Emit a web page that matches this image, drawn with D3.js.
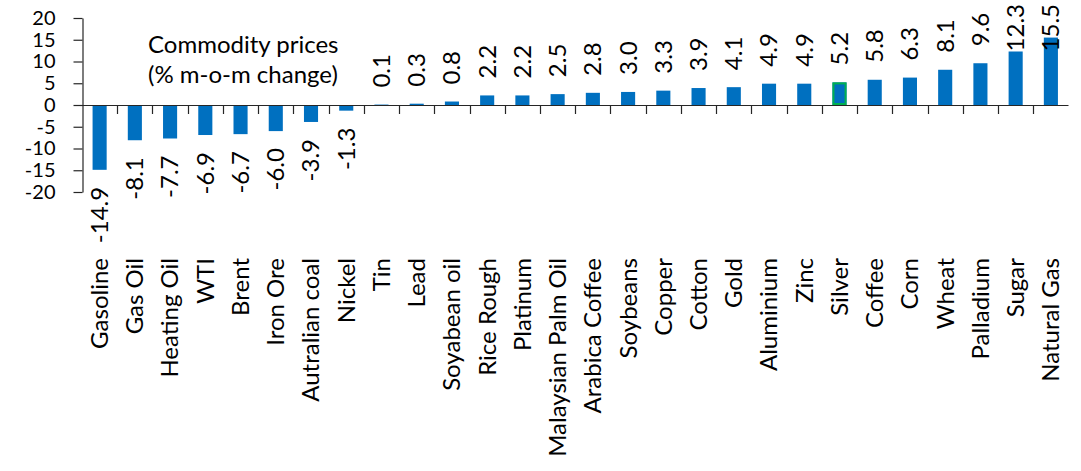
<!DOCTYPE html>
<html>
<head>
<meta charset="utf-8">
<script src="https://cdn.jsdelivr.net/npm/d3@7"></script>
<style>
  html, body { margin: 0; padding: 0; background: #ffffff; }
  svg { display: block; }
  text { font-family: Lato, "Open Sans", sans-serif; fill: #000; }
</style>
</head>
<body>
<svg id="chart" width="1081" height="471"></svg>
<script>
// Month-on-month change in commodity prices (%)
const commodities = [
  "Gasoline", "Gas Oil", "Heating Oil", "WTI", "Brent", "Iron Ore",
  "Autralian coal", "Nickel", "Tin", "Lead", "Soyabean oil", "Rice Rough",
  "Platinum", "Malaysian Palm Oil", "Arabica Coffee", "Soybeans", "Copper",
  "Cotton", "Gold", "Aluminium", "Zinc", "Silver", "Coffee", "Corn", "Wheat",
  "Palladium", "Sugar", "Natural Gas"
];
const changes = [
  -14.9, -8.1, -7.7, -6.9, -6.7, -6.0,
  -3.9, -1.3, 0.1, 0.3, 0.8, 2.2,
  2.2, 2.5, 2.8, 3.0, 3.3,
  3.9, 4.1, 4.9, 4.9, 5.2, 5.8, 6.3, 8.1,
  9.6, 12.3, 15.5
];
const yTicks = [-20, -15, -10, -5, 0, 5, 10, 15, 20];
const highlighted = ["Silver"];
const titleLines = ["Commodity prices", "(% m-o-m change)"];

const FONT = 24;
const TICK_FONT = 20;
const BLUE = "#0070C0";
const GREEN = "#00B050";
const AXIS = "#262626";

// Plain hyphen-minus for negative numbers
const locale = d3.formatLocale({
  decimal: ".", thousands: ",", grouping: [3], currency: ["", ""], minus: "-"
});
const fmtValue = locale.format(".1f");
const fmtTick = locale.format("d");

const data = commodities.map((name, i) => ({ name, value: changes[i] }));

const svg = d3.select("#chart");

const x = d3.scaleBand()
  .domain(commodities)
  .range([82, 1068.5])
  .paddingInner(0.6)
  .paddingOuter(0.3);

const y = d3.scaleLinear()
  .domain([-20, 20])
  .range([192, 18]);

// Bars
svg.append("g")
  .selectAll("rect")
  .data(data)
  .join("rect")
  .attr("x", d => x(d.name))
  .attr("width", x.bandwidth())
  .attr("y", d => y(Math.max(0, d.value)))
  .attr("height", d => Math.abs(y(d.value) - y(0)))
  .attr("fill", BLUE);

// Outline on the highlighted bar
svg.append("g")
  .selectAll("rect")
  .data(data.filter(d => highlighted.includes(d.name)))
  .join("rect")
  .attr("x", d => x(d.name) + 1)
  .attr("width", x.bandwidth() - 2)
  .attr("y", d => y(Math.max(0, d.value)) + 1)
  .attr("height", d => Math.abs(y(d.value) - y(0)) - 2)
  .attr("fill", "none")
  .attr("stroke", GREEN)
  .attr("stroke-width", 2);

// Y axis
const yAxis = svg.append("g")
  .attr("transform", "translate(82.5,0)")
  .call(d3.axisLeft(y).tickValues(yTicks).tickFormat(fmtTick)
    .tickSize(9).tickPadding(18).tickSizeOuter(0));
yAxis.select(".domain").attr("stroke", AXIS).attr("stroke-width", 1.2);
yAxis.selectAll(".tick line").attr("stroke", AXIS).attr("stroke-width", 1.2);
yAxis.selectAll(".tick text")
  .attr("font-size", TICK_FONT)
  .attr("font-family", "Lato, 'Open Sans', sans-serif")
  .attr("fill", "#000");

// Category axis along zero, with ticks between categories
const step = x.step();
const boundaries = d3.range(1, commodities.length).map(i => x.range()[0] + i * step);
const xAxisG = svg.append("g");
xAxisG.append("line")
  .attr("x1", x.range()[0]).attr("x2", x.range()[1])
  .attr("y1", y(0) + 0.5).attr("y2", y(0) + 0.5)
  .attr("stroke", AXIS).attr("stroke-width", 1.2);
xAxisG.selectAll("line.tick")
  .data(boundaries)
  .join("line")
  .attr("class", "tick")
  .attr("x1", d => Math.round(d) + 0.5).attr("x2", d => Math.round(d) + 0.5)
  .attr("y1", y(0)).attr("y2", y(0) + 9)
  .attr("stroke", AXIS).attr("stroke-width", 1.2);

// Category names, rotated, kept inside the canvas
const catTop = 258;
const catBottomLimit = 467;
svg.append("g")
  .selectAll("text")
  .data(commodities)
  .join("text")
  .attr("font-size", FONT)
  .attr("text-anchor", "end")
  .attr("dy", "0.35em")
  .text(d => d)
  .each(function(d) {
    const len = this.getComputedTextLength();
    const endY = Math.min(catTop, catBottomLimit - len);
    const cx = x(d) + x.bandwidth() / 2;
    d3.select(this).attr("transform", `translate(${cx},${endY}) rotate(-90)`);
  });

// Value labels beyond the end of each bar
const gap = 17;
const topLimit = 4;
svg.append("g")
  .selectAll("text")
  .data(data)
  .join("text")
  .attr("font-size", FONT)
  .attr("dy", "0.35em")
  .attr("text-anchor", d => d.value >= 0 ? "start" : "end")
  .text(d => fmtValue(d.value))
  .each(function(d) {
    const len = this.getComputedTextLength();
    const cx = x(d.name) + x.bandwidth() / 2;
    let py;
    if (d.value >= 0) {
      py = Math.max(y(d.value) - gap, topLimit + len);
    } else {
      py = y(d.value) + gap;
    }
    d3.select(this).attr("transform", `translate(${cx},${py}) rotate(-90)`);
  });

// Chart caption
svg.append("text")
  .attr("x", 148)
  .attr("y", 53)
  .attr("font-size", FONT)
  .selectAll("tspan")
  .data(titleLines)
  .join("tspan")
  .attr("x", 148)
  .attr("dy", (d, i) => i === 0 ? 0 : 30)
  .text(d => d);
</script>
</body>
</html>
